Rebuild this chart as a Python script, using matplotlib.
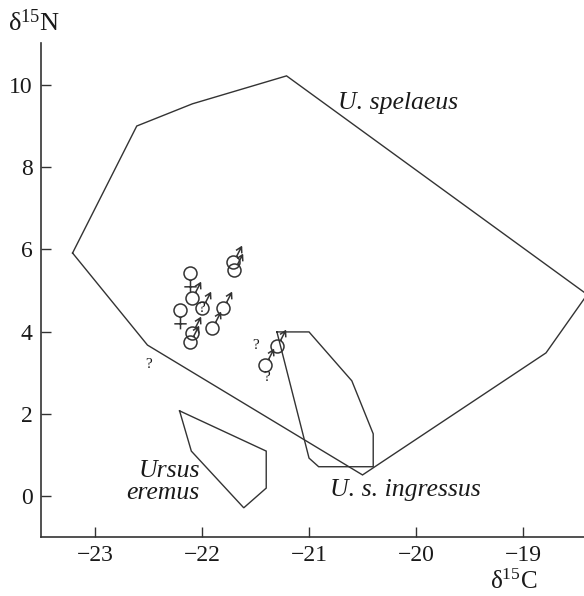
import numpy as np
import matplotlib
matplotlib.use("Agg")
import matplotlib.pyplot as plt
from matplotlib.path import Path

# ---- data ----
spelaeus_x = [-23.21, -22.61, -22.09, -21.21, -18.40, -18.785, -20.50, -22.51]
spelaeus_y = [5.91, 9.00, 9.54, 10.22, 4.90, 3.48, 0.51, 3.67]

ingressus_x = [-21.30, -21.00, -20.60, -20.40, -20.40, -20.91, -21.00]
ingressus_y = [3.99, 3.99, 2.80, 1.51, 0.71, 0.71, 0.92]

eremus_x = [-22.21, -21.40, -21.40, -21.61, -22.10]
eremus_y = [2.07, 1.09, 0.19, -0.29, 1.09]

female_x = [-22.11, -22.21]
female_y = [5.43, 4.53]

male_x = [-22.09, -22.00, -21.80, -21.91, -22.09, -22.11, -21.71, -21.70, -21.30, -21.41]
male_y = [4.82, 4.57, 4.57, 4.09, 3.97, 3.75, 5.69, 5.50, 3.65, 3.19]

query_x = [-22.50, -21.50, -21.40, -22.00]
query_y = [3.19, 3.65, 2.87, 4.57]

x_ticks = [-23, -22, -21, -20, -19]
y_ticks = [0, 2, 4, 6, 8, 10]

# ---- style ----
plt.rcParams['font.family'] = ['Liberation Serif', 'DejaVu Serif']
plt.rcParams['mathtext.fontset'] = 'custom'
plt.rcParams['mathtext.rm'] = 'Liberation Serif'
plt.rcParams['mathtext.it'] = 'Liberation Serif:italic'

LC = '#333333'
TC = '#1a1a1a'

fig = plt.figure(figsize=(5.84, 5.96), dpi=100)
ax = fig.add_axes([41/584, 1 - 537/596, 1 - 41/584, (537 - 43)/596])
ax.set_xlim(-23.505, -18.43)
ax.set_ylim(-1.0, 11.02)

for xs, ys in [(spelaeus_x, spelaeus_y), (ingressus_x, ingressus_y), (eremus_x, eremus_y)]:
    ax.plot(list(xs) + [xs[0]], list(ys) + [ys[0]], color=LC, lw=1.0, solid_joinstyle='miter')

# custom sex-symbol markers
circ = Path.unit_circle()
ang = np.deg2rad(63)
tip = np.array([2.7*np.cos(ang), 2.7*np.sin(ang)])
base = np.array([np.cos(ang), np.sin(ang)])
h1 = tip - 1.0*np.array([np.cos(ang - np.deg2rad(30)), np.sin(ang - np.deg2rad(30))])
h2 = tip - 1.0*np.array([np.cos(ang + np.deg2rad(30)), np.sin(ang + np.deg2rad(30))])
arrow = Path([base, tip, h1, tip, h2],
             [Path.MOVETO, Path.LINETO, Path.LINETO, Path.MOVETO, Path.LINETO])
male_marker = Path.make_compound_path(circ, arrow)
cross = Path([(0, -1), (0, -2.9), (-0.95, -2.05), (0.95, -2.05)],
             [Path.MOVETO, Path.LINETO, Path.MOVETO, Path.LINETO])
female_marker = Path.make_compound_path(circ, cross)

r_pt = 6.5 * 72 / 100
def msize(p):
    return 2 * r_pt * np.max(np.abs(p.vertices))

ax.plot(male_x, male_y, ls='none', marker=male_marker, ms=msize(male_marker),
        mfc='none', mec=LC, mew=1.1)
ax.plot(female_x, female_y, ls='none', marker=female_marker, ms=msize(female_marker),
        mfc='none', mec=LC, mew=1.1)
for qx, qy in zip(query_x, query_y):
    ax.text(qx, qy, '?', fontsize=11, ha='center', va='center', color=TC)

# labels inside
ax.text(-20.164, 9.56, 'U. spelaeus', fontsize=18.5, style='italic', ha='center', va='center', color=TC)
ax.text(-20.103, 0.146, 'U. s. ingressus', fontsize=18.5, style='italic', ha='center', va='center', color=TC)
ax.text(-22.02, 0.34, 'Ursus\neremus', fontsize=18.5, style='italic', ha='right', va='center',
        multialignment='right', linespacing=1.0, color=TC)

# axes styling
for s in ['top', 'right']:
    ax.spines[s].set_visible(False)
for s in ['left', 'bottom']:
    ax.spines[s].set_color(LC)
    ax.spines[s].set_linewidth(1.2)
ax.set_xticks(x_ticks)
ax.set_yticks(y_ticks)
ax.set_xticklabels(['\u2212%d' % abs(v) for v in x_ticks])
ax.set_yticklabels([str(v) for v in y_ticks])
ax.tick_params(direction='in', length=7, width=1.0, color=LC, labelsize=17, pad=6, labelcolor=TC)

fig.text(8/584, 1 - 23/596, r'$\mathrm{\delta}^{15}$N', fontsize=19, ha='left', va='center', color=TC)
fig.text(490/584, 1 - 582/596, r'$\mathrm{\delta}^{15}$C', fontsize=18, ha='left', va='center', color=TC)

fig.savefig('out.png', dpi=100)
